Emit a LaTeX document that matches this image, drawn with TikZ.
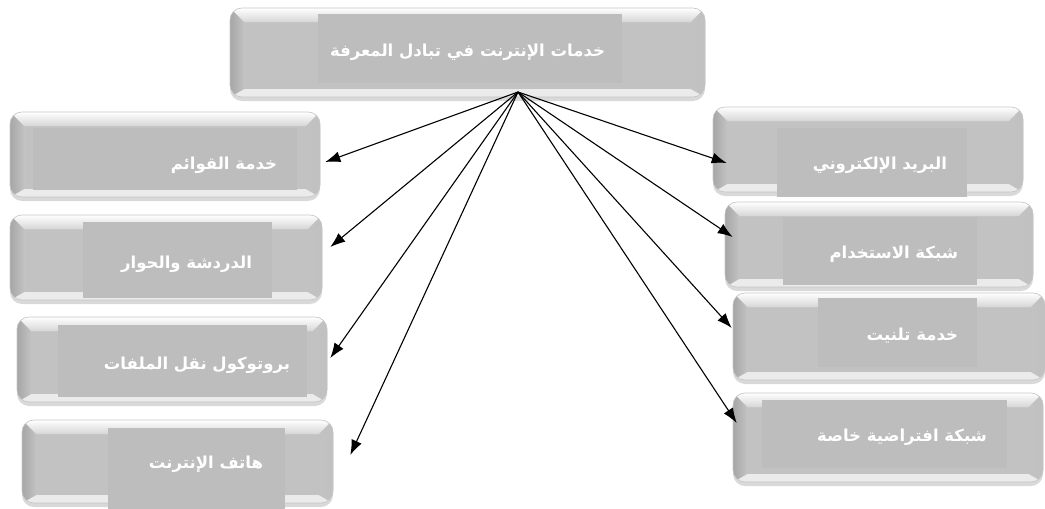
\documentclass[tikz,border=0pt]{standalone}
\usepackage{fontspec}
\usetikzlibrary{calc,arrows.meta,shadows}
\newfontfamily\arabicfont[Script=Arabic]{DejaVu Sans}
\TeXXeTstate=1

\definecolor{facegray}{HTML}{C2C2C2}
\definecolor{textgray}{HTML}{BDBDBD}
\definecolor{bevelgray}{HTML}{A6A6A6}
\definecolor{edgegray}{HTML}{D6D6D6}

\tikzset{
  tile/.style={rounded corners=12pt, minimum width=310pt, minimum height=85pt,
    inner sep=0pt, draw=gray!45, line width=0.6pt, fill=edgegray,
    drop shadow={shadow xshift=0pt, shadow yshift=-4pt, opacity=0.3},
    path picture={
      \coordinate (pnw) at (path picture bounding box.north west);
      \coordinate (pne) at (path picture bounding box.north east);
      \coordinate (psw) at (path picture bounding box.south west);
      \coordinate (pse) at (path picture bounding box.south east);
      \begin{scope}[sharp corners]
      % face
      \fill[facegray] ($(pnw)+(14pt,-14pt)$) rectangle ($(pse)+(-14pt,8pt)$);
      % top bevel
      \fill[top color=white, bottom color=edgegray] (pnw) -- (pne)
        -- ($(pne)+(-14pt,-14pt)$) -- ($(pnw)+(14pt,-14pt)$) -- cycle;
      % bottom bevel
      \fill[edgegray!50!white] (psw) -- (pse)
        -- ($(pse)+(-14pt,8pt)$) -- ($(psw)+(14pt,8pt)$) -- cycle;
      % side bevels
      \fill[left color=bevelgray, right color=facegray] (pnw)
        -- ($(pnw)+(14pt,-14pt)$) -- ($(psw)+(14pt,8pt)$) -- (psw) -- cycle;
      \fill[left color=facegray, right color=bevelgray!70!white] (pne)
        -- ($(pne)+(-14pt,-14pt)$) -- ($(pse)+(-14pt,8pt)$) -- (pse) -- cycle;
      \end{scope}
    }},
  face/.style={rectangle, fill=textgray, inner sep=0pt},
  facetext/.style={text=white, inner sep=0pt, anchor=east,
    font=\arabicfont\bfseries\fontsize{16.5}{19}\selectfont},
  link/.style={-{Latex[length=15pt,width=11pt]}, line width=1.1pt}
}

\begin{document}
\begin{tikzpicture}[x=1pt,y=-1pt]
  \useasboundingbox (0,0) rectangle (1045,509);

  % main box
  \node[tile, minimum width=475pt, minimum height=89pt] (services) at (467.5,52.5) {};
  \node[face, minimum width=304pt, minimum height=69pt] (servicesface) at (470,48.5) {};
  \node[facetext] (servicestext) at ([xshift=-17pt,yshift=-4pt]servicesface.east)
    {\beginR خدمات الإنترنت في تبادل المعرفة\endR};

  % left column
  \node[tile] (lists) at (165,154.5) {};
  \node[face, minimum width=264pt, minimum height=62pt] (listsface) at (165,159) {};
  \node[facetext] (liststext) at ([xshift=-20pt,yshift=-6pt]listsface.east)
    {\beginR خدمة القوائم\endR};

  \node[tile, minimum width=312pt] (chat) at (166,257.5) {};
  \node[face, minimum width=189pt, minimum height=76pt] (chatface) at (177.5,260) {};
  \node[facetext] (chattext) at ([xshift=-20pt,yshift=-4pt]chatface.east)
    {\beginR الدردشة والحوار\endR};

  \node[tile] (ftp) at (172,359.5) {};
  \node[face, minimum width=249pt, minimum height=72pt] (ftpface) at (182.5,361) {};
  \node[facetext] (ftptext) at ([xshift=-17pt,yshift=-4pt]ftpface.east)
    {\beginR بروتوكول نقل الملفات\endR};

  \node[tile, minimum width=311pt, minimum height=83pt] (voip) at (177.5,461.5) {};
  \node[face, minimum width=177pt, minimum height=81pt] (voipface) at (196.5,468.5) {};
  \node[facetext] (voiptext) at ([xshift=-22pt,yshift=4pt]voipface.east)
    {\beginR هاتف الإنترنت\endR};

  % right column
  \node[tile] (email) at (868,149.5) {};
  \node[face, minimum width=190pt, minimum height=69pt] (emailface) at (872,162.5) {};
  \node[facetext] (emailtext) at ([xshift=-20pt,yshift=-3pt]emailface.east)
    {\beginR البريد الإلكتروني\endR};

  \node[tile, minimum width=308pt] (usenet) at (879,244.5) {};
  \node[face, minimum width=194pt, minimum height=68pt] (usenetface) at (880,251) {};
  \node[facetext] (usenettext) at ([xshift=-19pt,yshift=-3pt]usenetface.east)
    {\beginR شبكة الاستخدام\endR};

  \node[tile, minimum width=312pt, minimum height=87pt] (telnet) at (889,336.5) {};
  \node[face, minimum width=159pt, minimum height=69pt] (telnetface) at (897.5,332.5) {};
  \node[facetext] (telnettext) at ([xshift=-19pt,yshift=-3pt]telnetface.east)
    {\beginR خدمة تلنيت\endR};

  \node[tile, minimum height=89pt] (vpn) at (888,437.5) {};
  \node[face, minimum width=245pt, minimum height=68pt] (vpnface) at (884.5,434) {};
  \node[facetext] (vpntext) at ([xshift=-20pt,yshift=-3pt]vpnface.east)
    {\beginR شبكة افتراضية خاصة\endR};

  % arrows from the main box
  \coordinate (hub) at (518,92);
  \draw[link] (hub) -- ([xshift=5pt,yshift=-7.5pt]lists.east);
  \draw[link] (hub) -- ([xshift=8pt,yshift=10.5pt]chat.east);
  \draw[link] (hub) -- ([xshift=3pt,yshift=1.5pt]ftp.east);
  \draw[link] (hub) -- ([xshift=17pt,yshift=6.5pt]voip.east);
  \draw[link] (hub) -- ([xshift=14pt,yshift=-13.5pt]email.west);
  \draw[link] (hub) -- ([xshift=8pt,yshift=7.5pt]usenet.west);
  \draw[link] (hub) -- ([xshift=-1pt,yshift=8.5pt]telnet.west);
  \draw[link] (hub) -- ([xshift=4pt,yshift=14.5pt]vpn.west);
\end{tikzpicture}
\end{document}
